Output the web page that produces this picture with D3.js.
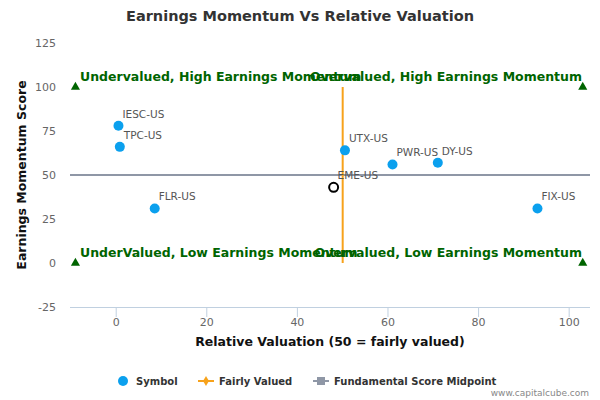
<!DOCTYPE html><html><head><meta charset="utf-8"><script src="https://cdn.jsdelivr.net/npm/d3@7"></script>
<style>body{margin:0;background:#fff}text{font-family:"DejaVu Sans",sans-serif}</style></head><body><svg id="c" width="600" height="400"></svg><script>
const symbols=["IESC-US","TPC-US","FLR-US","EME-US","UTX-US","PWR-US","DY-US","FIX-US"];
const relVal=[0.5,0.8,8.5,48,50.5,61,71,93];
const momentum=[78,66,31,43,64,56,57,31];
const highlight=[false,false,false,true,false,false,false,false];
const xTicks=[0,20,40,60,80,100];
const yTicks=[-25,0,25,50,75,100,125];
const quadLabels=["Undervalued, High Earnings Momentum","Overvalued, High Earnings Momentum","UnderValued, Low Earnings Momentum","Overvalued, Low Earnings Momentum"];
const svg=d3.select("#c");
const x=d3.scaleLinear().domain([-10.2,104.6]).range([70,590]);
const y=d3.scaleLinear().domain([-25,125]).range([307,43]);
svg.append("text").attr("x",300).attr("y",21).attr("text-anchor","middle").attr("font-size",14.5).attr("font-weight","bold").attr("fill","#333").text("Earnings Momentum Vs Relative Valuation");
const g=svg.append("g");
yTicks.forEach(t=>{g.append("text").attr("x",56).attr("y",y(t)+4).attr("text-anchor","end").attr("font-size",11).attr("fill","#666").text(t);});
g.append("line").attr("x1",70).attr("x2",590).attr("y1",307.5).attr("y2",307.5).attr("stroke","#c0d0e0");
xTicks.forEach(t=>{g.append("line").attr("x1",x(t)).attr("x2",x(t)).attr("y1",307).attr("y2",317).attr("stroke","#c0d0e0");
g.append("text").attr("x",x(t)).attr("y",326).attr("text-anchor","middle").attr("font-size",11).attr("fill","#666").text(t);});
svg.append("text").attr("x",330).attr("y",346).attr("text-anchor","middle").attr("font-size",12.5).attr("font-weight","bold").attr("fill","#111").text("Relative Valuation (50 = fairly valued)");
svg.append("text").attr("transform","translate(26,175) rotate(-90)").attr("text-anchor","middle").attr("font-size",12.5).attr("font-weight","bold").attr("fill","#111").text("Earnings Momentum Score");
// midlines
g.append("line").attr("x1",70).attr("x2",590).attr("y1",y(50)).attr("y2",y(50)).attr("stroke","#8f97a6").attr("stroke-width",2);
g.append("line").attr("x1",x(50)).attr("x2",x(50)).attr("y1",y(0)).attr("y2",y(100)).attr("stroke","#f7a21b").attr("stroke-width",2);
// triangles
[[-9,100],[103,100],[-9,0],[103,0]].forEach(p=>g.append("path").attr("d",d3.symbol(d3.symbolTriangle,36)()).attr("transform",`translate(${x(p[0])},${y(p[1])})`).attr("fill","#006400"));
const ql=[[80,y(100)-6,"start"],[582,y(100)-6,"end"],[80,y(0)-6,"start"],[582,y(0)-6,"end"]];
quadLabels.forEach((t,i)=>g.append("text").attr("x",ql[i][0]).attr("y",ql[i][1]).attr("text-anchor",ql[i][2]).attr("font-size",12.5).attr("font-weight","bold").attr("fill","#006400").text(t));
// points
symbols.forEach((s,i)=>{
 const cx=x(relVal[i]),cy=y(momentum[i]);
 if(highlight[i]) g.append("circle").attr("cx",cx).attr("cy",cy).attr("r",4.5).attr("fill","#fff").attr("stroke","#000").attr("stroke-width",2);
 else g.append("circle").attr("cx",cx).attr("cy",cy).attr("r",5).attr("fill","#0ba0ee");
 g.append("text").attr("x",cx+4).attr("y",cy-8).attr("font-size",10.5).attr("fill","#555").text(s);
});
// legend
const lg=svg.append("g").attr("font-size",10).attr("font-weight","bold").attr("fill","#333");
lg.append("circle").attr("cx",123).attr("cy",381).attr("r",5).attr("fill","#0ba0ee");
lg.append("text").attr("x",136).attr("y",385).text("Symbol");
lg.append("line").attr("x1",198).attr("x2",214).attr("y1",381).attr("y2",381).attr("stroke","#f7a21b").attr("stroke-width",2);
lg.append("path").attr("d",d3.symbol(d3.symbolDiamond,30)()).attr("transform","translate(206,381)").attr("fill","#f7a21b");
lg.append("text").attr("x",219).attr("y",385).text("Fairly Valued");
lg.append("line").attr("x1",313).attr("x2",329).attr("y1",381).attr("y2",381).attr("stroke","#8f97a6").attr("stroke-width",2);
lg.append("rect").attr("x",317).attr("y",377).attr("width",8).attr("height",8).attr("fill","#8f97a6");
lg.append("text").attr("x",334).attr("y",385).text("Fundamental Score Midpoint");
svg.append("text").attr("x",589).attr("y",396).attr("text-anchor","end").attr("font-size",9).attr("fill","#888").text("www.capitalcube.com");
</script></body></html>
